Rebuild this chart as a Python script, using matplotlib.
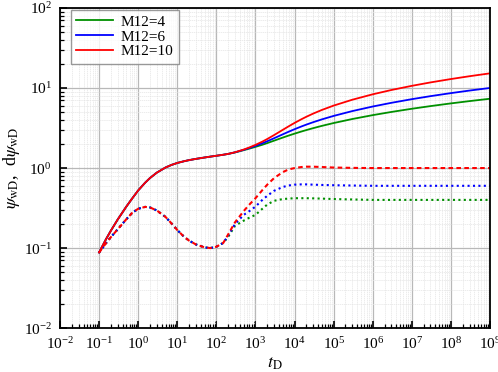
import matplotlib
matplotlib.use("Agg")
import matplotlib.pyplot as plt
from matplotlib.ticker import LogLocator, LogFormatterMathtext, NullFormatter

plt.rcParams['font.family'] = ['Liberation Serif', 'DejaVu Serif']
plt.rcParams['mathtext.fontset'] = 'stix'

# common early-time part (identical for all three cases)
t_common = [0.1, 0.15, 0.2, 0.3, 0.5, 0.7, 1, 1.5, 2, 3, 5, 7, 10, 15, 20, 30, 50, 70, 100, 150]
psi_common = [0.088, 0.129, 0.165, 0.228, 0.331, 0.416, 0.525, 0.655, 0.750, 0.877, 1.015,
              1.091, 1.158, 1.218, 1.256, 1.302, 1.355, 1.389, 1.424, 1.467]
der_common = [0.088, 0.115, 0.137, 0.172, 0.230, 0.275, 0.310, 0.327, 0.322, 0.295, 0.245,
              0.205, 0.168, 0.138, 0.124, 0.111, 0.102, 0.100, 0.104, 0.116]

# late-time part
t_late = [200, 300, 500, 700, 1e3, 1.5e3, 2e3, 3e3, 5e3, 7e3, 1e4, 1.5e4, 2e4, 3e4, 5e4,
          1e5, 3e5, 1e6, 3e6, 1e7, 3e7, 1e8, 3e8, 1e9]
psi_m4 = [1.502, 1.568, 1.673, 1.750, 1.840, 1.955, 2.050, 2.200, 2.404, 2.543, 2.692, 2.862,
          2.983, 3.153, 3.366, 3.652, 4.100, 4.585, 5.024, 5.506, 5.945, 6.427, 6.866, 7.348]
psi_m6 = [1.502, 1.572, 1.689, 1.781, 1.892, 2.040, 2.162, 2.359, 2.640, 2.839, 3.058, 3.310,
          3.490, 3.742, 4.058, 4.483, 5.150, 5.875, 6.534, 7.257, 7.916, 8.639, 9.298, 10.02]
psi_m10 = [1.502, 1.575, 1.703, 1.811, 1.948, 2.140, 2.306, 2.584, 3.003, 3.314, 3.664, 4.075,
           4.373, 4.794, 5.323, 6.032, 7.142, 8.349, 9.448, 10.65, 11.75, 12.95, 14.05, 15.26]
der_m4 = [0.138, 0.19, 0.22, 0.24, 0.26, 0.31, 0.35, 0.39, 0.41, 0.415, 0.42, 0.42, 0.42, 0.418,
          0.415, 0.41, 0.405, 0.40, 0.40, 0.40, 0.40, 0.40, 0.40, 0.40]
der_m6 = [0.143, 0.20, 0.26, 0.29, 0.33, 0.40, 0.45, 0.52, 0.58, 0.605, 0.62, 0.625, 0.625, 0.62,
          0.615, 0.61, 0.605, 0.60, 0.60, 0.60, 0.60, 0.60, 0.60, 0.60]
der_m10 = [0.148, 0.21, 0.29, 0.35, 0.42, 0.53, 0.62, 0.75, 0.89, 0.96, 1.00, 1.03, 1.04, 1.04,
           1.03, 1.015, 1.005, 1.0, 1.0, 1.0, 1.0, 1.0, 1.0, 1.0]

labels = ['M12=4', 'M12=6', 'M12=10']
colors = ['#009000', '#0000FF', '#FF0000']
psi_late = [psi_m4, psi_m6, psi_m10]
der_late = [der_m4, der_m6, der_m10]
der_styles = [(0, (1, 1.6)), (0, (1, 1.6)), (0, (2.2, 1.6))]

fig = plt.figure(figsize=(4.98, 3.72), dpi=100)
ax = fig.add_axes([0.1205, 0.118, 0.8635, 0.8605])

for lab, c, pl, dl, ds in zip(labels, colors, psi_late, der_late, der_styles):
    ax.plot(t_common + t_late, psi_common + pl, color=c, lw=1.3, label=lab)
    ax.plot(t_common + t_late, der_common + dl, color=c, lw=1.5, ls=ds)

ax.set_xscale('log')
ax.set_yscale('log')
ax.set_xlim(1e-2, 1e9)
ax.set_ylim(1e-2, 1e2)

ax.xaxis.set_major_locator(LogLocator(base=10, numticks=30))
ax.xaxis.set_minor_locator(LogLocator(base=10, subs=range(2, 10), numticks=30))
ax.yaxis.set_major_locator(LogLocator(base=10, numticks=30))
ax.yaxis.set_minor_locator(LogLocator(base=10, subs=range(2, 10), numticks=30))
ax.xaxis.set_major_formatter(LogFormatterMathtext())
ax.yaxis.set_major_formatter(LogFormatterMathtext())
ax.xaxis.set_minor_formatter(NullFormatter())
ax.yaxis.set_minor_formatter(NullFormatter())

ax.tick_params(which='major', direction='in', length=5, width=1.2, labelsize=11, pad=6)
ax.tick_params(which='minor', direction='in', length=3, width=0.9)
ax.tick_params(top=False, right=False)

ax.grid(which='major', color='#b8b8b8', lw=0.9, ls='-')
ax.grid(which='minor', color='#e4e4e4', lw=0.5, ls=(0, (2, 1)))
ax.set_axisbelow(True)
for s in ax.spines.values():
    s.set_linewidth(1.3)

ax.set_xlabel(r'$t_{\mathrm{D}}$', fontsize=13, labelpad=2)
ax.set_ylabel(r'$\psi_{\mathrm{wD}}$,  d$\psi_{\mathrm{wD}}$', fontsize=13, labelpad=1)

leg = ax.legend(loc='upper left', bbox_to_anchor=(0.025, 0.995), fontsize=11, frameon=True,
                fancybox=False, edgecolor='#808080', handlelength=2.4, borderaxespad=0.0,
                labelspacing=0.08, borderpad=0.35, handletextpad=0.5)
leg.get_frame().set_linewidth(1.0)

fig.savefig('out.png', dpi=100)
